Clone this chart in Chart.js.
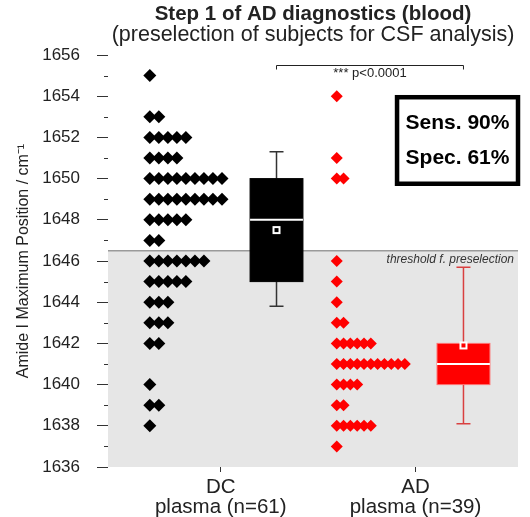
<!DOCTYPE html>
<html>
<head>
<meta charset="utf-8">
<title>Step 1 of AD diagnostics (blood)</title>
<script src="https://cdn.jsdelivr.net/npm/chart.js@4.4.0/dist/chart.umd.min.js"></script>
<style>
  html, body { margin: 0; padding: 0; background: #fff; }
  #wrap { position: relative; width: 530px; height: 517px; }
</style>
</head>
<body>
<div id="wrap"><canvas id="chart"></canvas></div>
<script>
// Groupes (categories de l'axe x)
const groups = ["DC", "AD"];
const groupN = [61, 39];

// Valeurs individuelles : niveau (cm-1) et nombre de sujets par niveau
const dcLevels = [1655, 1653, 1652, 1651, 1650, 1649, 1648, 1647, 1646, 1645, 1644, 1643, 1642, 1640, 1639, 1638];
const dcCounts = [1, 2, 5, 4, 9, 9, 5, 2, 7, 5, 3, 3, 2, 1, 2, 1];
const adLevels = [1654, 1651, 1650, 1646, 1645, 1644, 1643, 1642, 1641, 1640, 1639, 1638, 1637];
const adCounts = [1, 1, 2, 1, 1, 1, 2, 6, 11, 4, 2, 6, 1];

// Boites a moustaches [DC, AD]
const boxQ1 = [1645, 1640];
const boxMedian = [1648, 1641];
const boxQ3 = [1650, 1642];
const whiskerLow = [1643.8, 1638.1];
const whiskerHigh = [1651.3, 1645.7];
const boxMean = [1647.5, 1641.9];

// Seuil et annotations
const threshold = 1646.5;
const pValueLabel = "*** p<0.0001";
const sensitivity = 90;
const specificity = 61;

// Axe y
const yMin = 1636;
const yMax = 1656;

// Mise en page (echelle x de 0 a 100)
const labelX = [27.5, 75];
const dotStartX = [10.2, 55.8];
const dotStepX = [2.2, 1.66];
const boxX = [41.1, 86.7];
const boxW = 12.9;
const FONT = "'Liberation Sans', Arial, Helvetica, sans-serif";

function buildDots(levels, counts, startX, stepX) {
  const pts = [];
  levels.forEach((lv, i) => {
    for (let k = 0; k < counts[i]; k++) pts.push({ x: startX + k * stepX, y: lv });
  });
  return pts;
}

// Zone grise sous le seuil
const thresholdPlugin = {
  id: "thresholdZone",
  beforeDatasetsDraw(chart) {
    const { ctx, chartArea, scales } = chart;
    const yT = scales.y.getPixelForValue(threshold);
    ctx.save();
    ctx.fillStyle = "#e6e6e6";
    ctx.fillRect(chartArea.left, yT, chartArea.right - chartArea.left, chartArea.bottom - yT);
    ctx.strokeStyle = "#9a9a9a";
    ctx.lineWidth = 1.5;
    ctx.beginPath();
    ctx.moveTo(chartArea.left, yT);
    ctx.lineTo(chartArea.right, yT);
    ctx.stroke();
    ctx.fillStyle = "#333";
    ctx.font = "italic 12px " + FONT;
    ctx.textAlign = "right";
    ctx.textBaseline = "top";
    ctx.fillText("threshold f. preselection", chartArea.right - 4, yT + 3);
    ctx.restore();
  },
};

// Petites graduations intermediaires
const minorTickPlugin = {
  id: "minorTicks",
  afterDraw(chart) {
    const { ctx, chartArea, scales } = chart;
    ctx.save();
    ctx.strokeStyle = "#333";
    ctx.lineWidth = 1;
    for (let v = yMin + 1; v < yMax; v += 2) {
      const y = Math.round(scales.y.getPixelForValue(v)) + 0.5;
      ctx.beginPath();
      ctx.moveTo(chartArea.left - 4, y);
      ctx.lineTo(chartArea.left, y);
      ctx.stroke();
    }
    ctx.restore();
  },
};

// Boites a moustaches + crochet de significativite + encadre Sens/Spec
const boxPlugin = {
  id: "boxes",
  afterDatasetsDraw(chart) {
    const { ctx, scales, chartArea } = chart;
    const x = scales.x, y = scales.y;
    const styles = [
      { fill: "#000", edge: "#000", whisker: "#333", mean: "#000" },
      { fill: "#ff0000", edge: "#ff7070", whisker: "#d94040", mean: "#ff0000" },
    ];
    ctx.save();
    groups.forEach((g, i) => {
      const st = styles[i];
      const cx = x.getPixelForValue(boxX[i]);
      const half = x.getPixelForValue(boxX[i] + boxW / 2) - cx;
      const capHalf = 7;
      const yLo = y.getPixelForValue(whiskerLow[i]);
      const yHi = y.getPixelForValue(whiskerHigh[i]);
      const yQ1 = y.getPixelForValue(boxQ1[i]);
      const yQ3 = y.getPixelForValue(boxQ3[i]);
      const yMed = y.getPixelForValue(boxMedian[i]);
      const yMean = y.getPixelForValue(boxMean[i]);

      ctx.strokeStyle = st.whisker;
      ctx.lineWidth = 1.5;
      ctx.beginPath();
      ctx.moveTo(cx, yHi); ctx.lineTo(cx, yQ3);
      ctx.moveTo(cx, yQ1); ctx.lineTo(cx, yLo);
      ctx.moveTo(cx - capHalf, yHi); ctx.lineTo(cx + capHalf, yHi);
      ctx.moveTo(cx - capHalf, yLo); ctx.lineTo(cx + capHalf, yLo);
      ctx.stroke();

      ctx.fillStyle = st.fill;
      ctx.fillRect(cx - half, yQ3, 2 * half, yQ1 - yQ3);
      ctx.strokeStyle = st.edge;
      ctx.lineWidth = 1;
      ctx.strokeRect(cx - half, yQ3, 2 * half, yQ1 - yQ3);

      ctx.strokeStyle = "#fff";
      ctx.lineWidth = 2;
      ctx.beginPath();
      ctx.moveTo(cx - half, yMed); ctx.lineTo(cx + half, yMed);
      ctx.stroke();

      ctx.fillStyle = "#fff";
      ctx.fillRect(cx - 4, yMean - 4, 8, 8);
      ctx.fillStyle = st.mean;
      ctx.fillRect(cx - 2, yMean - 2, 4, 4);
    });

    // crochet p-value
    const x1 = x.getPixelForValue(boxX[0]);
    const x2 = x.getPixelForValue(boxX[1]);
    const yb = Math.round(y.getPixelForValue(1655.5)) + 0.5;
    ctx.strokeStyle = "#222";
    ctx.lineWidth = 1;
    ctx.beginPath();
    ctx.moveTo(x1, yb + 4); ctx.lineTo(x1, yb); ctx.lineTo(x2, yb); ctx.lineTo(x2, yb + 4);
    ctx.stroke();
    ctx.fillStyle = "#222";
    ctx.font = "13px " + FONT;
    ctx.textAlign = "center";
    ctx.textBaseline = "top";
    ctx.fillText(pValueLabel, (x1 + x2) / 2, yb + 1);

    // encadre sensibilite / specificite
    const bx = x.getPixelForValue(70.5);
    const bxr = chartArea.right;
    const by = y.getPixelForValue(1653.95);
    const byb = y.getPixelForValue(1649.75);
    ctx.fillStyle = "#fff";
    ctx.fillRect(bx, by, bxr - bx, byb - by);
    ctx.strokeStyle = "#000";
    ctx.lineWidth = 4.5;
    ctx.strokeRect(bx, by, bxr - bx, byb - by);
    ctx.fillStyle = "#000";
    ctx.font = "bold 21px " + FONT;
    ctx.textAlign = "center";
    ctx.textBaseline = "middle";
    const mx = (bx + bxr) / 2;
    ctx.fillText(`Sens. ${sensitivity}%`, mx, by + (byb - by) * 0.3);
    ctx.fillText(`Spec. ${specificity}%`, mx, by + (byb - by) * 0.7);
    ctx.restore();
  },
};

new Chart(document.getElementById("chart"), {
  type: "scatter",
  data: {
    datasets: [
      {
        label: "DC",
        data: buildDots(dcLevels, dcCounts, dotStartX[0], dotStepX[0]),
        pointStyle: "rectRot",
        pointRadius: 6.5,
        backgroundColor: "#000",
        borderWidth: 0,
      },
      {
        label: "AD",
        data: buildDots(adLevels, adCounts, dotStartX[1], dotStepX[1]),
        pointStyle: "rectRot",
        pointRadius: 6,
        backgroundColor: "#ff0000",
        borderWidth: 0,
      },
    ],
  },
  options: {
    responsive: true,
    maintainAspectRatio: false,
    animation: false,
    layout: { padding: { left: 8, right: 12, top: 0, bottom: 0 } },
    plugins: {
      legend: { display: false },
      tooltip: { enabled: false },
      title: {
        display: true,
        fullSize: false,
        text: "Step 1 of AD diagnostics (blood)",
        color: "#222",
        font: { family: FONT, size: 20.5, weight: "bold", lineHeight: 1.0 },
        padding: { top: 4, bottom: 0 },
      },
      subtitle: {
        display: true,
        fullSize: false,
        text: "(preselection of subjects for CSF analysis)",
        color: "#222",
        font: { family: FONT, size: 21.5, lineHeight: 1.0 },
        padding: { top: 0, bottom: 9 },
      },
    },
    scales: {
      x: {
        type: "linear",
        min: 0,
        max: 100,
        border: { display: false },
        grid: { drawOnChartArea: false, tickLength: 5, color: "#333" },
        afterBuildTicks: (scale) => {
          scale.ticks = labelX.map((v) => ({ value: v }));
        },
        afterFit: (scale) => {
          scale.height = 50;
        },
        ticks: {
          autoSkip: false,
          maxRotation: 0,
          padding: 5,
          color: "#222",
          font: { family: FONT, size: 20.5, lineHeight: 0.98 },
          callback: (value) => {
            const i = labelX.indexOf(value);
            return i < 0 ? "" : [groups[i], `plasma (n=${groupN[i]})`];
          },
        },
      },
      y: {
        min: yMin,
        max: yMax,
        border: { display: false },
        grid: { drawOnChartArea: false, tickLength: 11, tickColor: "#333" },
        afterFit: (scale) => {
          scale.width = 100;
        },
        title: {
          display: true,
          text: "Amide I Maximum Position / cm\u207B\u00B9",
          color: "#222",
          font: { family: FONT, size: 16 },
          padding: { top: 6, bottom: 0 },
        },
        ticks: {
          stepSize: 2,
          autoSkip: false,
          padding: 17,
          color: "#222",
          font: { family: FONT, size: 17 },
          callback: (value) => String(value),
        },
      },
    },
  },
  plugins: [thresholdPlugin, boxPlugin, minorTickPlugin],
});
</script>
</body>
</html>
